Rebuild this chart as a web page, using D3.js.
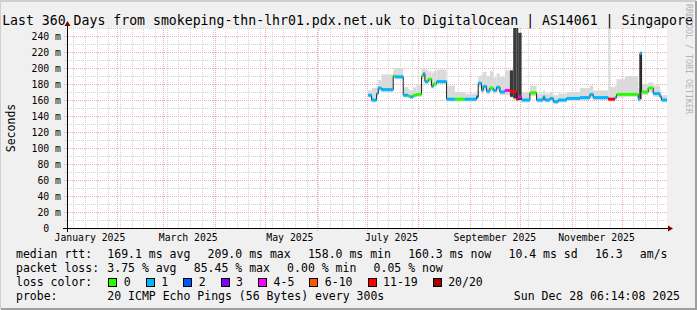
<!DOCTYPE html>
<html>
<head>
<meta charset="utf-8">
<script src="https://cdn.jsdelivr.net/npm/d3@7"></script>
<style>
  body { margin: 0; background: #f0f0f0; }
  text { font-family: "DejaVu Sans Mono", monospace; white-space: pre; }
</style>
</head>
<body>
<svg id="svg-main" width="697" height="310"></svg>
<script>
// ---- data ----
var titleText = "Last 360 Days from smokeping-thn-lhr01.pdx.net.uk to DigitalOcean | AS14061 | Singapore";
var endTime = "2025-12-28T06:14:08Z";

// each segment starts at segStart[i] and lasts until the next one
var segStart = ["2025-07-02", "2025-07-04", "2025-07-07", "2025-07-08", "2025-07-10", "2025-07-17", "2025-07-18",
                "2025-07-23", "2025-07-26", "2025-07-27", "2025-07-29", "2025-07-31", "2025-08-03", "2025-08-04",
                "2025-08-05", "2025-08-07", "2025-08-09", "2025-08-10", "2025-08-12", "2025-08-18", "2025-08-23",
                "2025-08-29", "2025-09-05", "2025-09-06", "2025-09-08", "2025-09-09", "2025-09-11", "2025-09-13",
                "2025-09-15", "2025-09-17", "2025-09-19", "2025-09-22", "2025-09-25", "2025-09-27", "2025-09-29",
                "2025-09-30", "2025-10-02", "2025-10-07", "2025-10-11", "2025-10-15", "2025-10-16", "2025-10-19",
                "2025-10-21", "2025-10-24", "2025-10-29", "2025-11-06", "2025-11-12", "2025-11-14", "2025-11-23",
                "2025-11-24", "2025-11-27", "2025-11-28", "2025-12-03", "2025-12-11", "2025-12-12", "2025-12-13",
                "2025-12-17", "2025-12-20", "2025-12-24", "2025-12-25"];
var median   = [166, 160, 168, 175, 173, 190, 189, 166, 165, 164, 166, 167, 190, 193, 183, 186, 177, 180, 183, 161,
                161, 161, 164, 181, 172, 177, 171, 175, 172, 176, 170, 172, 171, 170, 161, 164, 160, 169, 160, 164,
                160, 162, 158, 160, 162, 163, 167, 163, 161, 161, 163, 167, 167, 161, 218, 170, 175, 168, 164, 160];
var lossIdx  = [1, 1, 1, 1, 1, 0, 1, 1, 0, 1, 0, 0, 0, 1, 1, 0, 1, 0, 1, 1,
                0, 1, 2, 1, 1, 1, 1, 0, 1, 1, 1, 4, 6, 6, 6, 4, 1, 0, 1, 1,
                1, 1, 1, 1, 1, 1, 1, 1, 6, 6, 1, 0, 0, 1, 1, 0, 0, 1, 1, 1];
var smokeLo  = [163, 157, 164, 171, 170, 187, 186, 163, 162, 161, 163, 164, 186, 188, 180, 182, 174, 176, 180, 158,
                158, 158, 161, 176, 168, 172, 167, 171, 168, 171, 166, 166, 163, 160, 158, 158, 157, 165, 157, 160,
                157, 159, 155, 157, 159, 160, 162, 160, 158, 158, 160, 163, 164, 158, 160, 166, 170, 164, 161, 157];
var smokeHi  = [172, 175, 178, 185, 192, 198, 200, 176, 174, 172, 176, 180, 200, 199, 198, 196, 194, 196, 198, 178,
                170, 168, 172, 190, 192, 195, 190, 196, 188, 193, 189, 197, 197, 262, 262, 244, 170, 178, 168, 172,
                168, 170, 166, 168, 170, 175, 178, 172, 262, 176, 178, 186, 190, 175, 222, 180, 182, 178, 172, 166];
// dense part of the smoke, only where the pings were spread wide
var coreLo   = [null, null, null, null, null, null, null, null, null, null, null, null, null, null, null, null, null, null, null, null,
                null, null, null, null, null, null, null, null, null, null, null, null, 164, 162, 160, 160, null, null, null, null,
                null, null, null, null, null, null, null, null, null, null, null, null, null, null, 161, null, null, null, null, null];
var coreHi   = [null, null, null, null, null, null, null, null, null, null, null, null, null, null, null, null, null, null, null, null,
                null, null, null, null, null, null, null, null, null, null, null, null, 197, 262, 262, 244, null, null, null, null,
                null, null, null, null, null, null, null, null, null, null, null, null, null, null, 220, null, null, null, null, null];

var yTicks = [20, 40, 60, 80, 100, 120, 140, 160, 180, 200, 220, 240];
var lossLabels = ["0", "1", "2", "3", "4-5", "6-10", "11-19", "20/20"];
var lossColors = ["#26ff00", "#00b8ff", "#0059ff", "#7e00ff", "#ff00ff", "#ff5500", "#ff0000", "#a10000"];

var rttStats  = ["169.1 ms avg", "209.0 ms max", "158.0 ms min", "160.3 ms now", "10.4 ms sd", "16.3", "am/s"];
var lossStats = ["3.75 % avg", "85.45 % max", "0.00 % min", "0.05 % now"];
var probeText = "20 ICMP Echo Pings (56 Bytes) every 300s";
var stampText = "Sun Dec 28 06:14:08 2025";

// ---- layout ----
var W = 697, H = 310;
var plot = {left: 67, right: 667, top: 28, bottom: 228};
var svg = d3.select("#svg-main");

var tEnd = new Date(endTime);
var tStart = d3.utcDay.offset(tEnd, -360);
var x = d3.scaleUtc().domain([tStart, tEnd]).range([plot.left, plot.right]);
var y = d3.scaleLinear().domain([0, 250]).range([plot.bottom, plot.top]);

// background + 3d frame
svg.append("rect").attr("width", W).attr("height", H).attr("fill", "#f0f0f0");
svg.append("path").attr("d", "M0,309 V1 H696").attr("fill", "none").attr("stroke", "#cfcfcf").attr("stroke-width", 2);
svg.append("path").attr("d", "M1,309 H696 V1").attr("fill", "none").attr("stroke", "#9e9e9e").attr("stroke-width", 2);

svg.append("rect")
  .attr("x", plot.left).attr("y", plot.top)
  .attr("width", plot.right - plot.left).attr("height", plot.bottom - plot.top)
  .attr("fill", "#ffffff");

// ---- grid ----
var grid = svg.append("g").attr("shape-rendering", "crispEdges");
var minorCol = "#d4d4d4", majorCol = "#f0aaaa";

d3.utcMonday.range(tStart, tEnd).forEach(function(d) {
  grid.append("line")
    .attr("x1", Math.round(x(d)) + 0.5).attr("x2", Math.round(x(d)) + 0.5)
    .attr("y1", plot.top).attr("y2", plot.bottom + 2)
    .attr("stroke", minorCol).attr("stroke-dasharray", "1,1");
});
d3.range(10, 251, 10).filter(function(v) { return v % 20 != 0; }).forEach(function(v) {
  grid.append("line")
    .attr("x1", plot.left - 2).attr("x2", plot.right)
    .attr("y1", Math.round(y(v)) + 0.5).attr("y2", Math.round(y(v)) + 0.5)
    .attr("stroke", minorCol).attr("stroke-dasharray", "1,1");
});
d3.utcMonth.range(tStart, tEnd).forEach(function(d) {
  grid.append("line")
    .attr("x1", Math.round(x(d)) + 0.5).attr("x2", Math.round(x(d)) + 0.5)
    .attr("y1", plot.top).attr("y2", plot.bottom + 3)
    .attr("stroke", majorCol).attr("stroke-dasharray", "1,1");
});
yTicks.forEach(function(v) {
  grid.append("line")
    .attr("x1", plot.left - 3).attr("x2", plot.right)
    .attr("y1", Math.round(y(v)) + 0.5).attr("y2", Math.round(y(v)) + 0.5)
    .attr("stroke", majorCol).attr("stroke-dasharray", "1,1");
});

// ---- data ----
var segs = segStart.map(function(s, i) {
  return {
    t0: new Date(s + "T00:00:00Z"),
    t1: i + 1 < segStart.length ? new Date(segStart[i + 1] + "T00:00:00Z") : tEnd,
    med: median[i], loss: lossIdx[i],
    lo: smokeLo[i], hi: smokeHi[i], clo: coreLo[i], chi: coreHi[i]
  };
});

svg.append("clipPath").attr("id", "clip")
  .append("rect")
  .attr("x", plot.left).attr("y", plot.top)
  .attr("width", plot.right - plot.left).attr("height", plot.bottom - plot.top);

var data = svg.append("g").attr("clip-path", "url(#clip)");

data.selectAll("rect.smoke").data(segs).enter()
  .append("rect").attr("class", "smoke")
  .attr("x", function(d) { return x(d.t0); })
  .attr("width", function(d) { return x(d.t1) - x(d.t0); })
  .attr("y", function(d) { return y(d.hi); })
  .attr("height", function(d) { return y(d.lo) - y(d.hi); })
  .attr("fill", "#dadada");

data.selectAll("rect.core").data(segs.filter(function(d) { return d.chi != null; })).enter()
  .append("rect").attr("class", "core")
  .attr("x", function(d) { return x(d.t0); })
  .attr("width", function(d) { return x(d.t1) - x(d.t0); })
  .attr("y", function(d) { return y(d.chi); })
  .attr("height", function(d) { return y(d.clo) - y(d.chi); })
  .attr("fill", "#3a3a3a");

var pts = segs.map(function(d) { return [d.t0, d.med]; });
pts.push([tEnd, median[median.length - 1]]);
data.append("path")
  .attr("d", d3.line().curve(d3.curveStepAfter)
    .x(function(p) { return x(p[0]); })
    .y(function(p) { return y(p[1]); })(pts))
  .attr("fill", "none").attr("stroke", "#202020").attr("stroke-width", 1);

data.selectAll("rect.loss").data(segs).enter()
  .append("rect").attr("class", "loss")
  .attr("x", function(d) { return x(d.t0); })
  .attr("width", function(d) { return x(d.t1) - x(d.t0); })
  .attr("y", function(d) { return y(d.med) - 1.5; })
  .attr("height", 3)
  .attr("fill", function(d) { return lossColors[d.loss]; });

// ---- axes ----
svg.append("line")
  .attr("x1", plot.left - 4).attr("x2", plot.right + 2)
  .attr("y1", plot.bottom + 0.5).attr("y2", plot.bottom + 0.5)
  .attr("stroke", "#000").attr("shape-rendering", "crispEdges");
svg.append("line")
  .attr("x1", plot.left + 0.5).attr("x2", plot.left + 0.5)
  .attr("y1", plot.bottom + 4).attr("y2", plot.top - 3)
  .attr("stroke", "#000").attr("shape-rendering", "crispEdges");
svg.append("path")
  .attr("d", "M" + (plot.right + 1) + "," + (plot.bottom - 2.5) + " L" + (plot.right + 6) + "," + (plot.bottom + 0.5) +
             " L" + (plot.right + 1) + "," + (plot.bottom + 3.5) + "Z")
  .attr("fill", "#7f0000");
svg.append("path")
  .attr("d", "M" + (plot.left - 2.5) + "," + (plot.top - 2) + " L" + (plot.left + 0.5) + "," + (plot.top - 7) +
             " L" + (plot.left + 3.5) + "," + (plot.top - 2) + "Z")
  .attr("fill", "#7f0000");

// y labels
svg.selectAll("text.ylab").data([0].concat(yTicks)).enter()
  .append("text").attr("class", "ylab")
  .attr("x", plot.left - 6).attr("y", function(v) { return y(v) + 3.5; })
  .attr("text-anchor", "end")
  .style("font-size", "9.8px")
  .text(function(v) { return v == 0 ? "0  " : v + " m"; });

// x labels, centred half a month after the month start (rrdtool style)
svg.selectAll("text.xlab").data(d3.utcMonth.every(2).range(d3.utcMonth.floor(tStart), tEnd)).enter()
  .append("text").attr("class", "xlab")
  .attr("x", function(d) { return x(d3.utcDay.offset(d, 15)); })
  .attr("y", plot.bottom + 13)
  .attr("text-anchor", "middle")
  .style("font-size", "9.8px")
  .text(d3.utcFormat("%B %Y"));

svg.append("text")
  .attr("transform", "translate(15," + ((plot.top + plot.bottom) / 2) + ") rotate(-90)")
  .attr("text-anchor", "middle")
  .style("font-size", "11.5px")
  .text("Seconds");

svg.append("text")
  .attr("x", 347.5).attr("y", 25)
  .attr("text-anchor", "middle")
  .style("font-size", "13.2px")
  .text(titleText);

svg.append("text")
  .attr("transform", "translate(686,59) rotate(90)")
  .attr("text-anchor", "middle")
  .style("font-size", "8.3px")
  .attr("fill", "#b4b4b4")
  .text("RRDTOOL / TOBI OETIKER");

// ---- legend ----
var legFont = "11.5px", colX = 107.3, gap = 17.2;
function legendRow(label, items, yy) {
  svg.append("text").attr("x", 16).attr("y", yy).style("font-size", legFont).text(label);
  var xx = colX;
  items.forEach(function(t) {
    var el = svg.append("text").attr("x", xx).attr("y", yy).style("font-size", legFont).text(t);
    xx += el.node().getComputedTextLength() + gap;
  });
}
legendRow("median rtt:", rttStats, 258);
legendRow("packet loss:", lossStats, 272);

svg.append("text").attr("x", 16).attr("y", 286).style("font-size", legFont).text("loss color:");
var bx = colX + 1;
lossLabels.forEach(function(l, i) {
  svg.append("rect")
    .attr("x", Math.round(bx) + 0.5).attr("y", 278.5).attr("width", 8).attr("height", 8)
    .attr("fill", lossColors[i]).attr("stroke", "#000");
  var el = svg.append("text").attr("x", bx + 15.5).attr("y", 286).style("font-size", legFont).text(l);
  bx += 15.5 + el.node().getComputedTextLength() + 15;
});

svg.append("text").attr("x", 16).attr("y", 300).style("font-size", legFont).text("probe:");
svg.append("text").attr("x", colX).attr("y", 300).style("font-size", legFont).text(probeText);
svg.append("text").attr("x", 680).attr("y", 300).attr("text-anchor", "end").style("font-size", legFont).text(stampText);
</script>
</body>
</html>
